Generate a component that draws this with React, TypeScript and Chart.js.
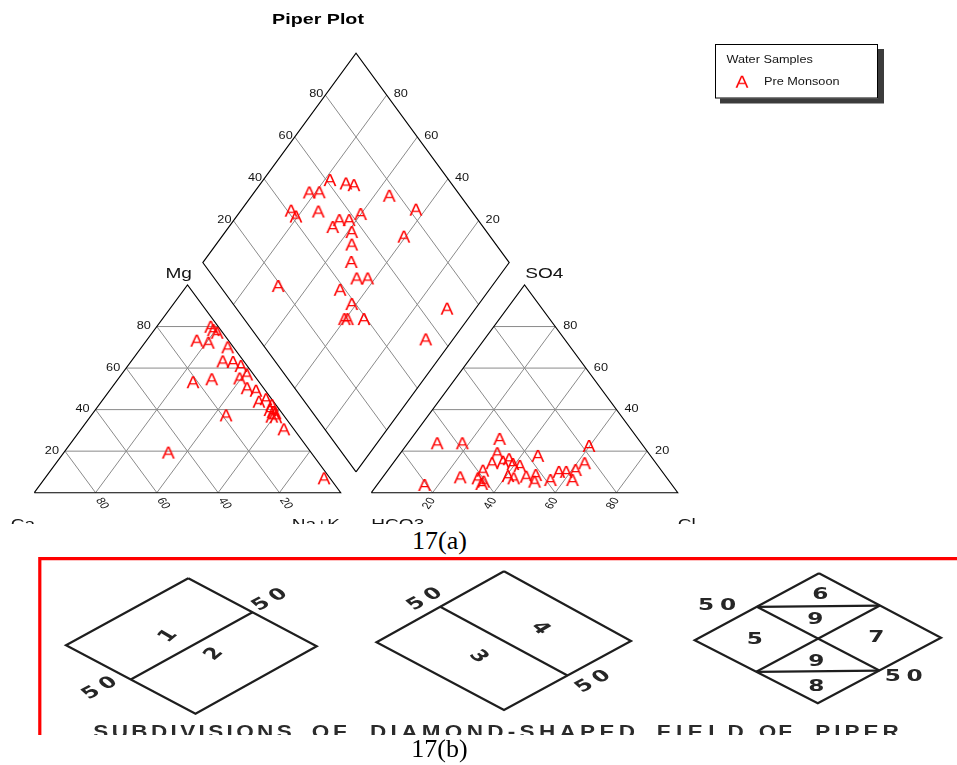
import React, { useEffect, useRef } from "react";
import { Chart, registerables } from "chart.js";

Chart.register(...registerables);

// ------------------------------------------------------------------ data
const TICKS = [20, 40, 60, 80];

// cation triangle (percent Mg, percent Na+K; Ca = remainder)
const cationMg = [79.9, 78.3, 77.0, 73.2, 72.2, 70.0, 63.2, 62.9, 61.0, 56.9, 53.2, 54.6, 55.0, 50.3, 49.1, 43.8, 45.0, 42.2, 39.8, 38.2, 36.6, 36.3, 38.9, 30.5, 37.2, 19.3, 6.9];
const cationNaK = [17.6, 19.3, 21.2, 16.4, 20.7, 28.1, 29.9, 33.4, 36.9, 40.9, 25.2, 30.6, 39.5, 44.3, 47.8, 51.4, 53.1, 56.4, 57.0, 59.5, 59.2, 60.7, 58.5, 66.2, 44.0, 34.1, 91.1];

// anion triangle (percent SO4, percent Cl; HCO3 = remainder)
const anionSO4 = [23.8, 23.8, 25.9, 22.5, 17.7, 19.0, 16.1, 14.2, 14.9, 13.8, 12.9, 10.6, 14.2, 10.9, 10.0, 10.0, 7.4, 6.9, 5.3, 8.0, 6.9, 7.7, 8.5, 5.3, 6.1, 6.1, 3.7, 4.2];
const anionCl = [9.6, 17.8, 28.9, 59.8, 45.5, 31.6, 36.9, 32.3, 35.5, 39.3, 42.0, 31.1, 62.5, 61.2, 58.6, 56.2, 25.3, 31.3, 34.0, 40.6, 43.0, 46.7, 49.4, 50.6, 55.4, 62.6, 15.5, 33.9];

// diamond field (percent Ca+Mg, percent SO4+Cl)
const diamondCaMg = [78.2, 72.2, 69.2, 82.0, 78.8, 55.1, 83.6, 80.6, 74.5, 43.1, 60.1, 65.6, 62.4, 66.1, 58.7, 40.6, 55.7, 51.7, 69.8, 46.0, 42.4, 48.7, 41.5, 40.3, 39.3, 33.9, 9.3, 8.9];
const diamondSO4Cl = [61.2, 65.6, 67.8, 51.5, 54.8, 76.8, 41.2, 41.4, 49.9, 82.2, 63.1, 54.7, 57.9, 50.9, 55.9, 71.8, 52.9, 48.6, 19.0, 46.4, 50.0, 38.3, 38.7, 32.7, 33.7, 39.1, 68.7, 54.4];

const seriesName = "Pre Monsoon";
const legendTitle = "Water Samples";
const chartTitle = "Piper Plot";

// bottom figure (subdivisions of the diamond field)
const subdivisionCaption = ["SUBDIVISIONS", "OF", "DIAMOND-SHAPED", "FIELD", "OF", "PIPER"];
const fieldLabelsA = ["1", "2"];
const fieldLabelsB = ["3", "4"];
const fieldLabelsC = ["6", "9", "5", "7", "9", "8"];
const halfLabel = "50";

// ------------------------------------------------------------------ geometry
const H = 86.6025; // height of a triangle of side 100
const GAP = 10;
const DIA_K = 1.008;
type P = { x: number; y: number };
const cat = (mg: number, nak: number): P => ({ x: nak + mg / 2, y: (mg * H) / 100 });
const an = (so4: number, cl: number): P => ({ x: 100 + GAP + cl + so4 / 2, y: (so4 * H) / 100 });
const dia = (c: number, a: number): P => ({
  x: 100 + GAP / 2 - c / 2 + a / 2,
  y: (GAP * H) / 100 + ((c + a) * H * DIA_K) / 100,
});

const FONT = "'Liberation Sans', Arial, Helvetica, sans-serif";
const SX = 1.27;

function drawText(ctx: CanvasRenderingContext2D, text: string, x: number, y: number, o: any) {
  ctx.save();
  ctx.translate(x, y);
  ctx.scale(o.sx ?? SX, 1);
  if (o.rot) ctx.rotate(o.rot);
  ctx.font = o.font;
  ctx.fillStyle = o.color ?? "#141414";
  ctx.textAlign = o.align ?? "left";
  ctx.textBaseline = o.baseline ?? "alphabetic";
  ctx.fillText(text, 0, 0);
  ctx.restore();
}

function makeGlyph(): HTMLCanvasElement {
  const c = document.createElement("canvas");
  c.width = 22;
  c.height = 20;
  const g = c.getContext("2d")!;
  g.translate(11, 10 + 5.9);
  g.scale(1.18, 1);
  g.font = `16.5px ${FONT}`;
  g.fillStyle = "#ff0000";
  g.textAlign = "center";
  g.textBaseline = "alphabetic";
  g.fillText("A", 0, 0);
  return c;
}

function lineSet(pts: P[], color: string, width: number, order: number) {
  return {
    data: pts,
    showLine: true,
    borderColor: color,
    backgroundColor: color,
    borderWidth: width,
    pointRadius: 0,
    pointHoverRadius: 0,
    fill: false,
    tension: 0,
    order,
    clip: false as any,
  };
}

// ------------------------------------------------------------------ top chart
function PiperChart() {
  const ref = useRef<HTMLCanvasElement>(null);
  useEffect(() => {
    const glyph = makeGlyph();
    const pointSet = (pts: P[]) => ({
      data: pts,
      showLine: false,
      pointStyle: glyph as any,
      pointRadius: 6,
      pointHoverRadius: 6,
      order: 0,
      clip: false as any,
    });
    const datasets: any[] = [];
    datasets.push(pointSet(cationMg.map((m, i) => cat(m, cationNaK[i]))));
    datasets.push(pointSet(anionSO4.map((s, i) => an(s, anionCl[i]))));
    datasets.push(pointSet(diamondCaMg.map((c, i) => dia(c, diamondSO4Cl[i]))));

    const GRID = "#8a8a8a";
    for (const v of TICKS) {
      datasets.push(lineSet([cat(v, 0), cat(v, 100 - v)], GRID, 1, 2));
      datasets.push(lineSet([cat(0, v), cat(100 - v, v)], GRID, 1, 2));
      datasets.push(lineSet([cat(0, 100 - v), cat(100 - v, 0)], GRID, 1, 2));
      datasets.push(lineSet([an(v, 0), an(v, 100 - v)], GRID, 1, 2));
      datasets.push(lineSet([an(0, v), an(100 - v, v)], GRID, 1, 2));
      datasets.push(lineSet([an(0, 100 - v), an(100 - v, 0)], GRID, 1, 2));
      datasets.push(lineSet([dia(v, 0), dia(v, 100)], GRID, 1, 2));
      datasets.push(lineSet([dia(0, v), dia(100, v)], GRID, 1, 2));
    }
    datasets.push(lineSet([cat(0, 0), cat(100, 0), cat(0, 100), cat(0, 0)], "#000", 1.1, 1));
    datasets.push(lineSet([an(0, 0), an(100, 0), an(0, 100), an(0, 0)], "#000", 1.1, 1));
    datasets.push(lineSet([dia(0, 0), dia(100, 0), dia(100, 100), dia(0, 100), dia(0, 0)], "#000", 1.1, 1));

    const textPlugin = {
      id: "piperText",
      afterDraw(chart: any) {
        const ctx: CanvasRenderingContext2D = chart.ctx;
        const xs = chart.scales.x;
        const ys = chart.scales.y;
        const px = (p: P) => ({ x: xs.getPixelForValue(p.x), y: ys.getPixelForValue(p.y) });
        const tickFont = `10px ${FONT}`;
        const axFont = `15px ${FONT}`;

        for (const v of TICKS) {
          const s = String(v);
          // cation
          let q = px(cat(v, 0));
          drawText(ctx, s, q.x - 6, q.y, { font: tickFont, align: "right", baseline: "middle" });
          q = px(cat(0, 100 - v));
          drawText(ctx, s, q.x + 3, q.y + 6, { font: tickFont, align: "left", baseline: "middle", rot: Math.PI / 3 });
          // anion
          q = px(an(v, 100 - v));
          drawText(ctx, s, q.x + 8, q.y, { font: tickFont, align: "left", baseline: "middle" });
          q = px(an(0, v));
          drawText(ctx, s, q.x, q.y + 6, { font: tickFont, align: "right", baseline: "middle", rot: -Math.PI / 3 });
          // diamond
          q = px(dia(100, v));
          drawText(ctx, s, q.x - 2, q.y - 0.5, { font: tickFont, align: "right", baseline: "middle" });
          q = px(dia(v, 100));
          drawText(ctx, s, q.x + 7, q.y - 0.5, { font: tickFont, align: "left", baseline: "middle" });
        }

        let q = px(cat(100, 0));
        drawText(ctx, "Mg", q.x + 4.4, q.y - 6.7, { font: axFont, align: "right" });
        q = px(an(100, 0));
        drawText(ctx, "SO4", q.x + 0.7, q.y - 6.7, { font: axFont, align: "left" });
        q = px(cat(0, 0));
        drawText(ctx, "Ca", q.x + 0.7, q.y + 36.5, { font: axFont, align: "right" });
        q = px(cat(0, 100));
        drawText(ctx, "Na+K", q.x - 0.7, q.y + 36.5, { font: axFont, align: "right" });
        q = px(an(0, 0));
        drawText(ctx, "HCO3", q.x, q.y + 36.5, { font: axFont, align: "left" });
        q = px(an(0, 100));
        drawText(ctx, "Cl", q.x, q.y + 36.5, { font: axFont, align: "left" });

        drawText(ctx, chartTitle, 318, 23.5, { font: `bold 15.5px ${FONT}`, align: "center", color: "#000" });

        // legend box with shadow
        ctx.save();
        ctx.fillStyle = "#3c3c3c";
        ctx.fillRect(720, 49, 164, 54.5);
        ctx.fillStyle = "#fff";
        ctx.fillRect(715, 44, 163, 54.5);
        ctx.strokeStyle = "#000";
        ctx.lineWidth = 1;
        ctx.strokeRect(715.5, 44.5, 162, 53.5);
        ctx.restore();
        drawText(ctx, legendTitle, 726.5, 63.3, { font: `10px ${FONT}` });
        ctx.drawImage(glyph, 742 - 11, 81.7 - 10);
        drawText(ctx, seriesName, 764, 85, { font: `10px ${FONT}` });
      },
    };

    const chart = new Chart(ref.current!, {
      type: "scatter",
      data: { datasets },
      options: {
        animation: false,
        responsive: false,
        maintainAspectRatio: false,
        events: [],
        layout: { padding: 0, autoPadding: false } as any,
        plugins: { legend: { display: false }, tooltip: { enabled: false }, title: { display: false } },
        scales: {
          x: { type: "linear", min: -11.194, max: 301.14, display: false },
          y: { type: "linear", min: -13.06, max: 205.46, display: false },
        },
      },
      plugins: [textPlugin],
    });
    return () => chart.destroy();
  }, []);
  return (
    <canvas
      ref={ref}
      width={957}
      height={524}
      style={{ position: "absolute", left: 0, top: 0, width: 957, height: 524 }}
    />
  );
}

// ------------------------------------------------------------------ bottom figure
type D = { T: P; R: P; B: P; L: P };
const subFrames: D[] = [
  { T: { x: 188.3, y: 578.3 }, R: { x: 316.7, y: 646.2 }, B: { x: 195.5, y: 713.7 }, L: { x: 66, y: 645.3 } },
  { T: { x: 504, y: 571.3 }, R: { x: 631, y: 641 }, B: { x: 504, y: 710 }, L: { x: 376.5, y: 642.2 } },
  { T: { x: 819, y: 573.3 }, R: { x: 941, y: 637.8 }, B: { x: 817.8, y: 703.3 }, L: { x: 694.7, y: 640.3 } },
];
const mid = (a: P, b: P): P => ({ x: (a.x + b.x) / 2, y: (a.y + b.y) / 2 });

function SubdivisionChart() {
  const ref = useRef<HTMLCanvasElement>(null);
  useEffect(() => {
    const INK = "#1e1e1e";
    const datasets: any[] = [];
    datasets.push(lineSet([{ x: 39.8, y: 740 }, { x: 39.8, y: 558.6 }, { x: 960, y: 558.6 }], "#ff0000", 3.2, 1));
    for (const d of subFrames) datasets.push(lineSet([d.T, d.R, d.B, d.L, d.T], INK, 2.2, 1));
    const [d1, d2, d3] = subFrames;
    datasets.push(lineSet([mid(d1.L, d1.B), mid(d1.T, d1.R)], INK, 2.2, 1));
    datasets.push(lineSet([mid(d2.T, d2.L), mid(d2.R, d2.B)], INK, 2.2, 1));
    datasets.push(lineSet([mid(d3.T, d3.L), mid(d3.T, d3.R)], INK, 2.2, 1));
    datasets.push(lineSet([mid(d3.L, d3.B), mid(d3.R, d3.B)], INK, 2.2, 1));
    datasets.push(lineSet([mid(d3.T, d3.L), mid(d3.R, d3.B)], INK, 2.2, 1));
    datasets.push(lineSet([mid(d3.T, d3.R), mid(d3.L, d3.B)], INK, 2.2, 1));

    const plugin = {
      id: "subText",
      afterDraw(chart: any) {
        const ctx: CanvasRenderingContext2D = chart.ctx;
        const xs = chart.scales.x;
        const ys = chart.scales.y;
        const px = (p: P) => ({ x: xs.getPixelForValue(p.x), y: ys.getPixelForValue(p.y) });
        const dFont = `bold 16px 'DejaVu Sans', ${FONT}`;
        const BSX = 1.45;
        const lab = (t: string, p: P, rot = 0) => {
          const q = px(p);
          drawText(ctx, t, q.x, q.y, { font: dFont, align: "center", baseline: "middle", sx: BSX, rot, color: "#262626" });
        };
        const fifty = (p: P, rot = 0) => {
          const q = px(p);
          ctx.save();
          ctx.translate(q.x, q.y);
          ctx.scale(BSX, 1);
          if (rot) ctx.rotate(rot);
          ctx.font = dFont;
          ctx.fillStyle = "#262626";
          ctx.textBaseline = "middle";
          ctx.textAlign = "left";
          const gap = 4;
          const w0 = ctx.measureText(halfLabel[0]).width;
          const w1 = ctx.measureText(halfLabel[1]).width;
          const tot = w0 + gap + w1;
          ctx.fillText(halfLabel[0], -tot / 2, 0);
          ctx.fillText(halfLabel[1], -tot / 2 + w0 + gap, 0);
          ctx.restore();
        };
        const r1 = (-50 * Math.PI) / 180;
        const r5 = (-38 * Math.PI) / 180;
        lab(fieldLabelsA[0], { x: 168.3, y: 636 }, r1);
        lab(fieldLabelsA[1], { x: 214, y: 654 }, r1);
        fifty({ x: 270, y: 600 }, r5);
        fifty({ x: 100, y: 688.3 }, r5);
        lab(fieldLabelsB[1], { x: 540, y: 628.3 }, -r1);
        lab(fieldLabelsB[0], { x: 478.3, y: 656.7 }, -r1);
        fifty({ x: 425, y: 599.3 }, r5);
        fifty({ x: 593.3, y: 681.7 }, r5);
        const c3: P[] = [
          { x: 820.3, y: 595 },
          { x: 815.3, y: 620 },
          { x: 754.7, y: 640 },
          { x: 876.3, y: 638.3 },
          { x: 816.3, y: 661.7 },
          { x: 816.3, y: 686.7 },
        ];
        fieldLabelsC.forEach((t, i) => lab(t, c3[i]));
        fifty({ x: 717, y: 606 });
        fifty({ x: 903.7, y: 677.3 });

        // caption, words spread over their spans
        const spans = [
          [93.3, 291.7],
          [311.7, 346.7],
          [370, 635],
          [656.7, 743.7],
          [758.7, 792],
          [815.3, 898.7],
        ];
        const cFont = `bold 18px ${FONT}`;
        const CSX = 1.25;
        ctx.save();
        ctx.font = cFont;
        ctx.fillStyle = "#2b2b2b";
        ctx.textAlign = "left";
        ctx.textBaseline = "alphabetic";
        subdivisionCaption.forEach((w, wi) => {
          const [a, b] = spans[wi];
          const widths = w.split("").map((ch) => ctx.measureText(ch).width * CSX);
          const sum = widths.reduce((s, v) => s + v, 0);
          const sp = w.length > 1 ? (b - a - sum) / (w.length - 1) : 0;
          let x = a;
          w.split("").forEach((ch, i) => {
            const q = px({ x, y: 737.5 });
            ctx.save();
            ctx.translate(q.x, q.y);
            ctx.scale(CSX, 1);
            ctx.fillText(ch, 0, 0);
            ctx.restore();
            x += widths[i] + sp;
          });
        });
        ctx.restore();
      },
    };

    const chart = new Chart(ref.current!, {
      type: "scatter",
      data: { datasets },
      options: {
        animation: false,
        responsive: false,
        maintainAspectRatio: false,
        events: [],
        layout: { padding: 0, autoPadding: false } as any,
        plugins: { legend: { display: false }, tooltip: { enabled: false }, title: { display: false } },
        scales: {
          x: { type: "linear", min: 0, max: 957, display: false },
          y: { type: "linear", min: 555, max: 735, reverse: true, display: false },
        },
      },
      plugins: [plugin],
    });
    return () => chart.destroy();
  }, []);
  return (
    <canvas
      ref={ref}
      width={957}
      height={180}
      style={{ position: "absolute", left: 0, top: 555, width: 957, height: 180 }}
    />
  );
}

const captionStyle: React.CSSProperties = {
  position: "absolute",
  left: 339.5,
  width: 200,
  textAlign: "center",
  fontFamily: "'Liberation Serif', 'Times New Roman', serif",
  fontSize: 26,
  lineHeight: "26px",
  color: "#000",
  whiteSpace: "nowrap",
};

export default function App() {
  return (
    <div style={{ position: "absolute", left: 0, top: 0, width: 957, height: 765, background: "#fff", overflow: "hidden" }}>
      <PiperChart />
      <div style={{ ...captionStyle, top: 528.2 }}>17(a)</div>
      <SubdivisionChart />
      <div style={{ ...captionStyle, top: 736 }}>17(b)</div>
    </div>
  );
}
